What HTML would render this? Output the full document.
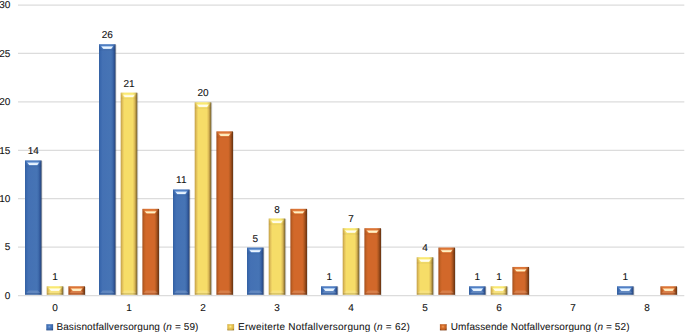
<!DOCTYPE html>
<html><head><meta charset="utf-8"><style>
html,body{margin:0;padding:0;background:#fff;}
svg{display:block;}
.t{font-family:"Liberation Sans",sans-serif;font-size:10px;fill:#111;stroke:#111;stroke-width:0.1px;}
.a{font-size:10px;text-rendering:geometricPrecision;}
.l{text-rendering:geometricPrecision;stroke-width:0.05px;}
.v{font-size:10px;text-rendering:geometricPrecision;}
</style></head><body>
<svg width="685" height="334" viewBox="0 0 685 334">
<defs><linearGradient id="gb" x1="0" y1="0" x2="1" y2="0"><stop offset="0" stop-color="#34609f"/><stop offset="0.06" stop-color="#3866ab"/><stop offset="0.14" stop-color="#3e6cb1"/><stop offset="0.22" stop-color="#4471b4"/><stop offset="0.72" stop-color="#4674b5"/><stop offset="0.82" stop-color="#3d69aa"/><stop offset="0.9" stop-color="#30579a"/><stop offset="0.96" stop-color="#2a4a80"/><stop offset="1" stop-color="#263c60"/></linearGradient><linearGradient id="gy" x1="0" y1="0" x2="1" y2="0"><stop offset="0" stop-color="#c09c44"/><stop offset="0.06" stop-color="#d4b252"/><stop offset="0.14" stop-color="#eacb60"/><stop offset="0.22" stop-color="#f6dd68"/><stop offset="0.72" stop-color="#f6dd68"/><stop offset="0.82" stop-color="#e2c25a"/><stop offset="0.9" stop-color="#b89844"/><stop offset="0.96" stop-color="#8a7236"/><stop offset="1" stop-color="#6a5a30"/></linearGradient><linearGradient id="go" x1="0" y1="0" x2="1" y2="0"><stop offset="0" stop-color="#a04c1c"/><stop offset="0.06" stop-color="#b45820"/><stop offset="0.14" stop-color="#c86426"/><stop offset="0.22" stop-color="#d2682a"/><stop offset="0.72" stop-color="#d2682a"/><stop offset="0.82" stop-color="#b85c22"/><stop offset="0.9" stop-color="#94481a"/><stop offset="0.96" stop-color="#7a3c14"/><stop offset="1" stop-color="#5e3010"/></linearGradient><linearGradient id="hb" x1="0" y1="0" x2="0" y2="1"><stop offset="0" stop-color="#90b8ea"/><stop offset="0.5" stop-color="#f0f8ff"/><stop offset="0.78" stop-color="#e8f4ff"/><stop offset="1" stop-color="#8ab0e0"/></linearGradient><linearGradient id="hy" x1="0" y1="0" x2="0" y2="1"><stop offset="0" stop-color="#fff4a0"/><stop offset="0.5" stop-color="#fffef4"/><stop offset="0.78" stop-color="#fffce8"/><stop offset="1" stop-color="#f8e890"/></linearGradient><linearGradient id="ho" x1="0" y1="0" x2="0" y2="1"><stop offset="0" stop-color="#f09858"/><stop offset="0.5" stop-color="#fff4cc"/><stop offset="0.78" stop-color="#ffeebb"/><stop offset="1" stop-color="#f0a060"/></linearGradient><radialGradient id="ib" cx="0.45" cy="0.4" r="0.65"><stop offset="0" stop-color="#7aa4dc"/><stop offset="0.35" stop-color="#4a78bc"/><stop offset="0.8" stop-color="#3866aa"/><stop offset="1" stop-color="#2a4a80"/></radialGradient><radialGradient id="iy" cx="0.45" cy="0.4" r="0.65"><stop offset="0" stop-color="#fff0a0"/><stop offset="0.35" stop-color="#eccb58"/><stop offset="0.8" stop-color="#d4ae44"/><stop offset="1" stop-color="#a08030"/></radialGradient><radialGradient id="io" cx="0.45" cy="0.4" r="0.65"><stop offset="0" stop-color="#f0a060"/><stop offset="0.35" stop-color="#d8702c"/><stop offset="0.8" stop-color="#b85a20"/><stop offset="1" stop-color="#7a3a12"/></radialGradient><filter id="bl" x="-20%" y="-50%" width="140%" height="200%"><feGaussianBlur stdDeviation="0.4"/></filter></defs>
<line x1="18" x2="684.3" y1="295.55" y2="295.55" stroke="#dcdcdc" stroke-width="1.25"/>
<text x="10.4" y="298.85" text-anchor="end" class="t a">0</text>
<line x1="18" x2="684.3" y1="247.14" y2="247.14" stroke="#dcdcdc" stroke-width="1.25"/>
<text x="10.4" y="250.44" text-anchor="end" class="t a">5</text>
<line x1="18" x2="684.3" y1="198.72" y2="198.72" stroke="#dcdcdc" stroke-width="1.25"/>
<text x="10.4" y="202.02" text-anchor="end" class="t a">10</text>
<line x1="18" x2="684.3" y1="150.31" y2="150.31" stroke="#dcdcdc" stroke-width="1.25"/>
<text x="10.4" y="153.61" text-anchor="end" class="t a">15</text>
<line x1="18" x2="684.3" y1="101.89" y2="101.89" stroke="#dcdcdc" stroke-width="1.25"/>
<text x="10.4" y="105.19" text-anchor="end" class="t a">20</text>
<line x1="18" x2="684.3" y1="53.48" y2="53.48" stroke="#dcdcdc" stroke-width="1.25"/>
<text x="10.4" y="56.78" text-anchor="end" class="t a">25</text>
<line x1="18" x2="684.3" y1="5.06" y2="5.06" stroke="#dcdcdc" stroke-width="1.25"/>
<text x="10.4" y="8.36" text-anchor="end" class="t a">30</text>
<text x="55" y="310.6" text-anchor="middle" class="t a">0</text>
<text x="129" y="310.6" text-anchor="middle" class="t a">1</text>
<text x="203" y="310.6" text-anchor="middle" class="t a">2</text>
<text x="277" y="310.6" text-anchor="middle" class="t a">3</text>
<text x="351" y="310.6" text-anchor="middle" class="t a">4</text>
<text x="425" y="310.6" text-anchor="middle" class="t a">5</text>
<text x="499" y="310.6" text-anchor="middle" class="t a">6</text>
<text x="573" y="310.6" text-anchor="middle" class="t a">7</text>
<text x="647" y="310.6" text-anchor="middle" class="t a">8</text>
<rect x="41.30" y="160.94" width="1.3" height="134.36" fill="#000" opacity="0.12"/>
<rect x="25.00" y="160.44" width="16.6" height="134.36" fill="url(#gb)"/>
<rect x="25.50" y="160.44" width="15.10" height="1.6" fill="#6a9ae0" opacity="0.35"/>
<polygon points="25.60,161.94 40.60,161.94 38.00,165.44 28.20,165.44" fill="#6a9ae0" opacity="0.25" filter="url(#bl)"/>
<rect x="25.00" y="165.14" width="16.6" height="2" fill="#000" opacity="0.03"/>
<polygon points="27.00,162.24 39.20,162.24 37.20,165.24 29.40,165.24" fill="url(#hb)" filter="url(#bl)"/>
<polygon points="28.60,290.60 37.80,290.60 40.40,293.10 26.20,293.10" fill="#fff" opacity="0.15" filter="url(#bl)"/>
<rect x="25.30" y="293.10" width="16.00" height="1.7" fill="#404860" opacity="0.16"/>
<rect x="115.30" y="44.74" width="1.3" height="250.56" fill="#000" opacity="0.12"/>
<rect x="99.00" y="44.24" width="16.6" height="250.56" fill="url(#gb)"/>
<rect x="99.50" y="44.24" width="15.10" height="1.6" fill="#6a9ae0" opacity="0.35"/>
<polygon points="99.60,45.74 114.60,45.74 112.00,49.24 102.20,49.24" fill="#6a9ae0" opacity="0.25" filter="url(#bl)"/>
<rect x="99.00" y="48.94" width="16.6" height="2" fill="#000" opacity="0.03"/>
<polygon points="101.00,46.04 113.20,46.04 111.20,49.04 103.40,49.04" fill="url(#hb)" filter="url(#bl)"/>
<polygon points="102.60,290.60 111.80,290.60 114.40,293.10 100.20,293.10" fill="#fff" opacity="0.15" filter="url(#bl)"/>
<rect x="99.30" y="293.10" width="16.00" height="1.7" fill="#404860" opacity="0.16"/>
<rect x="189.30" y="189.99" width="1.3" height="105.31" fill="#000" opacity="0.12"/>
<rect x="173.00" y="189.49" width="16.6" height="105.31" fill="url(#gb)"/>
<rect x="173.50" y="189.49" width="15.10" height="1.6" fill="#6a9ae0" opacity="0.35"/>
<polygon points="173.60,190.99 188.60,190.99 186.00,194.49 176.20,194.49" fill="#6a9ae0" opacity="0.25" filter="url(#bl)"/>
<rect x="173.00" y="194.19" width="16.6" height="2" fill="#000" opacity="0.03"/>
<polygon points="175.00,191.29 187.20,191.29 185.20,194.29 177.40,194.29" fill="url(#hb)" filter="url(#bl)"/>
<polygon points="176.60,290.60 185.80,290.60 188.40,293.10 174.20,293.10" fill="#fff" opacity="0.15" filter="url(#bl)"/>
<rect x="173.30" y="293.10" width="16.00" height="1.7" fill="#404860" opacity="0.16"/>
<rect x="263.30" y="248.09" width="1.3" height="47.22" fill="#000" opacity="0.12"/>
<rect x="247.00" y="247.59" width="16.6" height="47.22" fill="url(#gb)"/>
<rect x="247.50" y="247.59" width="15.10" height="1.6" fill="#6a9ae0" opacity="0.35"/>
<polygon points="247.60,249.09 262.60,249.09 260.00,252.59 250.20,252.59" fill="#6a9ae0" opacity="0.25" filter="url(#bl)"/>
<rect x="247.00" y="252.28" width="16.6" height="2" fill="#000" opacity="0.03"/>
<polygon points="249.00,249.39 261.20,249.39 259.20,252.39 251.40,252.39" fill="url(#hb)" filter="url(#bl)"/>
<polygon points="250.60,290.60 259.80,290.60 262.40,293.10 248.20,293.10" fill="#fff" opacity="0.15" filter="url(#bl)"/>
<rect x="247.30" y="293.10" width="16.00" height="1.7" fill="#404860" opacity="0.16"/>
<rect x="337.30" y="286.82" width="1.3" height="8.48" fill="#000" opacity="0.12"/>
<rect x="321.00" y="286.32" width="16.6" height="8.48" fill="url(#gb)"/>
<rect x="321.50" y="286.32" width="15.10" height="1.6" fill="#6a9ae0" opacity="0.35"/>
<polygon points="321.60,287.82 336.60,287.82 334.00,291.32 324.20,291.32" fill="#6a9ae0" opacity="0.25" filter="url(#bl)"/>
<polygon points="323.00,288.12 335.20,288.12 333.20,291.12 325.40,291.12" fill="url(#hb)" filter="url(#bl)"/>
<polygon points="324.60,290.60 333.80,290.60 336.40,293.10 322.20,293.10" fill="#fff" opacity="0.15" filter="url(#bl)"/>
<rect x="321.30" y="293.10" width="16.00" height="1.7" fill="#404860" opacity="0.16"/>
<rect x="485.30" y="286.82" width="1.3" height="8.48" fill="#000" opacity="0.12"/>
<rect x="469.00" y="286.32" width="16.6" height="8.48" fill="url(#gb)"/>
<rect x="469.50" y="286.32" width="15.10" height="1.6" fill="#6a9ae0" opacity="0.35"/>
<polygon points="469.60,287.82 484.60,287.82 482.00,291.32 472.20,291.32" fill="#6a9ae0" opacity="0.25" filter="url(#bl)"/>
<polygon points="471.00,288.12 483.20,288.12 481.20,291.12 473.40,291.12" fill="url(#hb)" filter="url(#bl)"/>
<polygon points="472.60,290.60 481.80,290.60 484.40,293.10 470.20,293.10" fill="#fff" opacity="0.15" filter="url(#bl)"/>
<rect x="469.30" y="293.10" width="16.00" height="1.7" fill="#404860" opacity="0.16"/>
<rect x="633.30" y="286.82" width="1.3" height="8.48" fill="#000" opacity="0.12"/>
<rect x="617.00" y="286.32" width="16.6" height="8.48" fill="url(#gb)"/>
<rect x="617.50" y="286.32" width="15.10" height="1.6" fill="#6a9ae0" opacity="0.35"/>
<polygon points="617.60,287.82 632.60,287.82 630.00,291.32 620.20,291.32" fill="#6a9ae0" opacity="0.25" filter="url(#bl)"/>
<polygon points="619.00,288.12 631.20,288.12 629.20,291.12 621.40,291.12" fill="url(#hb)" filter="url(#bl)"/>
<polygon points="620.60,290.60 629.80,290.60 632.40,293.10 618.20,293.10" fill="#fff" opacity="0.15" filter="url(#bl)"/>
<rect x="617.30" y="293.10" width="16.00" height="1.7" fill="#404860" opacity="0.16"/>
<rect x="63.00" y="286.82" width="1.3" height="8.48" fill="#000" opacity="0.12"/>
<rect x="46.70" y="286.32" width="16.6" height="8.48" fill="url(#gy)"/>
<rect x="47.20" y="286.32" width="15.10" height="1.6" fill="#ffff88" opacity="0.35"/>
<polygon points="47.30,287.82 62.30,287.82 59.70,291.32 49.90,291.32" fill="#ffff88" opacity="0.25" filter="url(#bl)"/>
<polygon points="48.70,288.12 60.90,288.12 58.90,291.12 51.10,291.12" fill="url(#hy)" filter="url(#bl)"/>
<polygon points="50.30,290.60 59.50,290.60 62.10,293.10 47.90,293.10" fill="#fff" opacity="0.15" filter="url(#bl)"/>
<rect x="47.00" y="293.10" width="16.00" height="1.7" fill="#404860" opacity="0.16"/>
<rect x="137.00" y="93.16" width="1.3" height="202.14" fill="#000" opacity="0.12"/>
<rect x="120.70" y="92.66" width="16.6" height="202.14" fill="url(#gy)"/>
<rect x="121.20" y="92.66" width="15.10" height="1.6" fill="#ffff88" opacity="0.35"/>
<polygon points="121.30,94.16 136.30,94.16 133.70,97.66 123.90,97.66" fill="#ffff88" opacity="0.25" filter="url(#bl)"/>
<rect x="120.70" y="97.36" width="16.6" height="2" fill="#000" opacity="0.03"/>
<polygon points="122.70,94.46 134.90,94.46 132.90,97.46 125.10,97.46" fill="url(#hy)" filter="url(#bl)"/>
<polygon points="124.30,290.60 133.50,290.60 136.10,293.10 121.90,293.10" fill="#fff" opacity="0.15" filter="url(#bl)"/>
<rect x="121.00" y="293.10" width="16.00" height="1.7" fill="#404860" opacity="0.16"/>
<rect x="211.00" y="102.84" width="1.3" height="192.46" fill="#000" opacity="0.12"/>
<rect x="194.70" y="102.34" width="16.6" height="192.46" fill="url(#gy)"/>
<rect x="195.20" y="102.34" width="15.10" height="1.6" fill="#ffff88" opacity="0.35"/>
<polygon points="195.30,103.84 210.30,103.84 207.70,107.34 197.90,107.34" fill="#ffff88" opacity="0.25" filter="url(#bl)"/>
<rect x="194.70" y="107.04" width="16.6" height="2" fill="#000" opacity="0.03"/>
<polygon points="196.70,104.14 208.90,104.14 206.90,107.14 199.10,107.14" fill="url(#hy)" filter="url(#bl)"/>
<polygon points="198.30,290.60 207.50,290.60 210.10,293.10 195.90,293.10" fill="#fff" opacity="0.15" filter="url(#bl)"/>
<rect x="195.00" y="293.10" width="16.00" height="1.7" fill="#404860" opacity="0.16"/>
<rect x="285.00" y="219.04" width="1.3" height="76.26" fill="#000" opacity="0.12"/>
<rect x="268.70" y="218.54" width="16.6" height="76.26" fill="url(#gy)"/>
<rect x="269.20" y="218.54" width="15.10" height="1.6" fill="#ffff88" opacity="0.35"/>
<polygon points="269.30,220.04 284.30,220.04 281.70,223.54 271.90,223.54" fill="#ffff88" opacity="0.25" filter="url(#bl)"/>
<rect x="268.70" y="223.24" width="16.6" height="2" fill="#000" opacity="0.03"/>
<polygon points="270.70,220.34 282.90,220.34 280.90,223.34 273.10,223.34" fill="url(#hy)" filter="url(#bl)"/>
<polygon points="272.30,290.60 281.50,290.60 284.10,293.10 269.90,293.10" fill="#fff" opacity="0.15" filter="url(#bl)"/>
<rect x="269.00" y="293.10" width="16.00" height="1.7" fill="#404860" opacity="0.16"/>
<rect x="359.00" y="228.72" width="1.3" height="66.58" fill="#000" opacity="0.12"/>
<rect x="342.70" y="228.22" width="16.6" height="66.58" fill="url(#gy)"/>
<rect x="343.20" y="228.22" width="15.10" height="1.6" fill="#ffff88" opacity="0.35"/>
<polygon points="343.30,229.72 358.30,229.72 355.70,233.22 345.90,233.22" fill="#ffff88" opacity="0.25" filter="url(#bl)"/>
<rect x="342.70" y="232.92" width="16.6" height="2" fill="#000" opacity="0.03"/>
<polygon points="344.70,230.02 356.90,230.02 354.90,233.02 347.10,233.02" fill="url(#hy)" filter="url(#bl)"/>
<polygon points="346.30,290.60 355.50,290.60 358.10,293.10 343.90,293.10" fill="#fff" opacity="0.15" filter="url(#bl)"/>
<rect x="343.00" y="293.10" width="16.00" height="1.7" fill="#404860" opacity="0.16"/>
<rect x="433.00" y="257.77" width="1.3" height="37.53" fill="#000" opacity="0.12"/>
<rect x="416.70" y="257.27" width="16.6" height="37.53" fill="url(#gy)"/>
<rect x="417.20" y="257.27" width="15.10" height="1.6" fill="#ffff88" opacity="0.35"/>
<polygon points="417.30,258.77 432.30,258.77 429.70,262.27 419.90,262.27" fill="#ffff88" opacity="0.25" filter="url(#bl)"/>
<rect x="416.70" y="261.97" width="16.6" height="2" fill="#000" opacity="0.03"/>
<polygon points="418.70,259.07 430.90,259.07 428.90,262.07 421.10,262.07" fill="url(#hy)" filter="url(#bl)"/>
<polygon points="420.30,290.60 429.50,290.60 432.10,293.10 417.90,293.10" fill="#fff" opacity="0.15" filter="url(#bl)"/>
<rect x="417.00" y="293.10" width="16.00" height="1.7" fill="#404860" opacity="0.16"/>
<rect x="507.00" y="286.82" width="1.3" height="8.48" fill="#000" opacity="0.12"/>
<rect x="490.70" y="286.32" width="16.6" height="8.48" fill="url(#gy)"/>
<rect x="491.20" y="286.32" width="15.10" height="1.6" fill="#ffff88" opacity="0.35"/>
<polygon points="491.30,287.82 506.30,287.82 503.70,291.32 493.90,291.32" fill="#ffff88" opacity="0.25" filter="url(#bl)"/>
<polygon points="492.70,288.12 504.90,288.12 502.90,291.12 495.10,291.12" fill="url(#hy)" filter="url(#bl)"/>
<polygon points="494.30,290.60 503.50,290.60 506.10,293.10 491.90,293.10" fill="#fff" opacity="0.15" filter="url(#bl)"/>
<rect x="491.00" y="293.10" width="16.00" height="1.7" fill="#404860" opacity="0.16"/>
<rect x="84.70" y="286.82" width="1.3" height="8.48" fill="#000" opacity="0.12"/>
<rect x="68.40" y="286.32" width="16.6" height="8.48" fill="url(#go)"/>
<rect x="68.90" y="286.32" width="15.10" height="1.6" fill="#f09050" opacity="0.35"/>
<polygon points="69.00,287.82 84.00,287.82 81.40,291.32 71.60,291.32" fill="#f09050" opacity="0.25" filter="url(#bl)"/>
<polygon points="70.40,288.12 82.60,288.12 80.60,291.12 72.80,291.12" fill="url(#ho)" filter="url(#bl)"/>
<polygon points="72.00,290.60 81.20,290.60 83.80,293.10 69.60,293.10" fill="#fff" opacity="0.15" filter="url(#bl)"/>
<rect x="68.70" y="293.10" width="16.00" height="1.7" fill="#404860" opacity="0.16"/>
<rect x="158.70" y="209.35" width="1.3" height="85.95" fill="#000" opacity="0.12"/>
<rect x="142.40" y="208.85" width="16.6" height="85.95" fill="url(#go)"/>
<rect x="142.90" y="208.85" width="15.10" height="1.6" fill="#f09050" opacity="0.35"/>
<polygon points="143.00,210.35 158.00,210.35 155.40,213.85 145.60,213.85" fill="#f09050" opacity="0.25" filter="url(#bl)"/>
<rect x="142.40" y="213.55" width="16.6" height="2" fill="#000" opacity="0.03"/>
<polygon points="144.40,210.65 156.60,210.65 154.60,213.65 146.80,213.65" fill="url(#ho)" filter="url(#bl)"/>
<polygon points="146.00,290.60 155.20,290.60 157.80,293.10 143.60,293.10" fill="#fff" opacity="0.15" filter="url(#bl)"/>
<rect x="142.70" y="293.10" width="16.00" height="1.7" fill="#404860" opacity="0.16"/>
<rect x="232.70" y="131.89" width="1.3" height="163.41" fill="#000" opacity="0.12"/>
<rect x="216.40" y="131.39" width="16.6" height="163.41" fill="url(#go)"/>
<rect x="216.90" y="131.39" width="15.10" height="1.6" fill="#f09050" opacity="0.35"/>
<polygon points="217.00,132.89 232.00,132.89 229.40,136.39 219.60,136.39" fill="#f09050" opacity="0.25" filter="url(#bl)"/>
<rect x="216.40" y="136.09" width="16.6" height="2" fill="#000" opacity="0.03"/>
<polygon points="218.40,133.19 230.60,133.19 228.60,136.19 220.80,136.19" fill="url(#ho)" filter="url(#bl)"/>
<polygon points="220.00,290.60 229.20,290.60 231.80,293.10 217.60,293.10" fill="#fff" opacity="0.15" filter="url(#bl)"/>
<rect x="216.70" y="293.10" width="16.00" height="1.7" fill="#404860" opacity="0.16"/>
<rect x="306.70" y="209.35" width="1.3" height="85.95" fill="#000" opacity="0.12"/>
<rect x="290.40" y="208.85" width="16.6" height="85.95" fill="url(#go)"/>
<rect x="290.90" y="208.85" width="15.10" height="1.6" fill="#f09050" opacity="0.35"/>
<polygon points="291.00,210.35 306.00,210.35 303.40,213.85 293.60,213.85" fill="#f09050" opacity="0.25" filter="url(#bl)"/>
<rect x="290.40" y="213.55" width="16.6" height="2" fill="#000" opacity="0.03"/>
<polygon points="292.40,210.65 304.60,210.65 302.60,213.65 294.80,213.65" fill="url(#ho)" filter="url(#bl)"/>
<polygon points="294.00,290.60 303.20,290.60 305.80,293.10 291.60,293.10" fill="#fff" opacity="0.15" filter="url(#bl)"/>
<rect x="290.70" y="293.10" width="16.00" height="1.7" fill="#404860" opacity="0.16"/>
<rect x="380.70" y="228.72" width="1.3" height="66.58" fill="#000" opacity="0.12"/>
<rect x="364.40" y="228.22" width="16.6" height="66.58" fill="url(#go)"/>
<rect x="364.90" y="228.22" width="15.10" height="1.6" fill="#f09050" opacity="0.35"/>
<polygon points="365.00,229.72 380.00,229.72 377.40,233.22 367.60,233.22" fill="#f09050" opacity="0.25" filter="url(#bl)"/>
<rect x="364.40" y="232.92" width="16.6" height="2" fill="#000" opacity="0.03"/>
<polygon points="366.40,230.02 378.60,230.02 376.60,233.02 368.80,233.02" fill="url(#ho)" filter="url(#bl)"/>
<polygon points="368.00,290.60 377.20,290.60 379.80,293.10 365.60,293.10" fill="#fff" opacity="0.15" filter="url(#bl)"/>
<rect x="364.70" y="293.10" width="16.00" height="1.7" fill="#404860" opacity="0.16"/>
<rect x="454.70" y="248.09" width="1.3" height="47.22" fill="#000" opacity="0.12"/>
<rect x="438.40" y="247.59" width="16.6" height="47.22" fill="url(#go)"/>
<rect x="438.90" y="247.59" width="15.10" height="1.6" fill="#f09050" opacity="0.35"/>
<polygon points="439.00,249.09 454.00,249.09 451.40,252.59 441.60,252.59" fill="#f09050" opacity="0.25" filter="url(#bl)"/>
<rect x="438.40" y="252.28" width="16.6" height="2" fill="#000" opacity="0.03"/>
<polygon points="440.40,249.39 452.60,249.39 450.60,252.39 442.80,252.39" fill="url(#ho)" filter="url(#bl)"/>
<polygon points="442.00,290.60 451.20,290.60 453.80,293.10 439.60,293.10" fill="#fff" opacity="0.15" filter="url(#bl)"/>
<rect x="438.70" y="293.10" width="16.00" height="1.7" fill="#404860" opacity="0.16"/>
<rect x="528.70" y="267.45" width="1.3" height="27.85" fill="#000" opacity="0.12"/>
<rect x="512.40" y="266.95" width="16.6" height="27.85" fill="url(#go)"/>
<rect x="512.90" y="266.95" width="15.10" height="1.6" fill="#f09050" opacity="0.35"/>
<polygon points="513.00,268.45 528.00,268.45 525.40,271.95 515.60,271.95" fill="#f09050" opacity="0.25" filter="url(#bl)"/>
<rect x="512.40" y="271.65" width="16.6" height="2" fill="#000" opacity="0.03"/>
<polygon points="514.40,268.75 526.60,268.75 524.60,271.75 516.80,271.75" fill="url(#ho)" filter="url(#bl)"/>
<polygon points="516.00,290.60 525.20,290.60 527.80,293.10 513.60,293.10" fill="#fff" opacity="0.15" filter="url(#bl)"/>
<rect x="512.70" y="293.10" width="16.00" height="1.7" fill="#404860" opacity="0.16"/>
<rect x="676.70" y="286.82" width="1.3" height="8.48" fill="#000" opacity="0.12"/>
<rect x="660.40" y="286.32" width="16.6" height="8.48" fill="url(#go)"/>
<rect x="660.90" y="286.32" width="15.10" height="1.6" fill="#f09050" opacity="0.35"/>
<polygon points="661.00,287.82 676.00,287.82 673.40,291.32 663.60,291.32" fill="#f09050" opacity="0.25" filter="url(#bl)"/>
<polygon points="662.40,288.12 674.60,288.12 672.60,291.12 664.80,291.12" fill="url(#ho)" filter="url(#bl)"/>
<polygon points="664.00,290.60 673.20,290.60 675.80,293.10 661.60,293.10" fill="#fff" opacity="0.15" filter="url(#bl)"/>
<rect x="660.70" y="293.10" width="16.00" height="1.7" fill="#404860" opacity="0.16"/>
<text x="33.30" y="154.00" text-anchor="middle" class="t v">14</text>
<text x="107.30" y="38.34" text-anchor="middle" class="t v">26</text>
<text x="181.30" y="183.00" text-anchor="middle" class="t v">11</text>
<text x="255.30" y="241.69" text-anchor="middle" class="t v">5</text>
<text x="329.30" y="280.42" text-anchor="middle" class="t v">1</text>
<text x="477.30" y="280.42" text-anchor="middle" class="t v">1</text>
<text x="625.30" y="280.42" text-anchor="middle" class="t v">1</text>
<text x="55.00" y="280.42" text-anchor="middle" class="t v">1</text>
<text x="129.00" y="86.76" text-anchor="middle" class="t v">21</text>
<text x="203.00" y="96.44" text-anchor="middle" class="t v">20</text>
<text x="277.00" y="212.64" text-anchor="middle" class="t v">8</text>
<text x="351.00" y="222.32" text-anchor="middle" class="t v">7</text>
<text x="425.00" y="251.37" text-anchor="middle" class="t v">4</text>
<text x="499.00" y="280.42" text-anchor="middle" class="t v">1</text>
<rect x="46.3" y="324.2" width="6.8" height="6.2" fill="url(#ib)"/><text x="56.4" y="330.2" class="t l" textLength="142" lengthAdjust="spacing">Basisnotfallversorgung (<tspan font-style="italic">n</tspan> = 59)</text>
<rect x="227.3" y="324.2" width="6.8" height="6.2" fill="url(#iy)"/><text x="238.1" y="330.2" class="t l" textLength="171.7" lengthAdjust="spacing">Erweiterte Notfallversorgung (<tspan font-style="italic">n</tspan> = 62)</text>
<rect x="439.9" y="324.2" width="6.8" height="6.2" fill="url(#io)"/><text x="450.7" y="330.2" class="t l" textLength="178.8" lengthAdjust="spacing">Umfassende Notfallversorgung (<tspan font-style="italic">n</tspan> = 52)</text>
</svg>
</body></html>
